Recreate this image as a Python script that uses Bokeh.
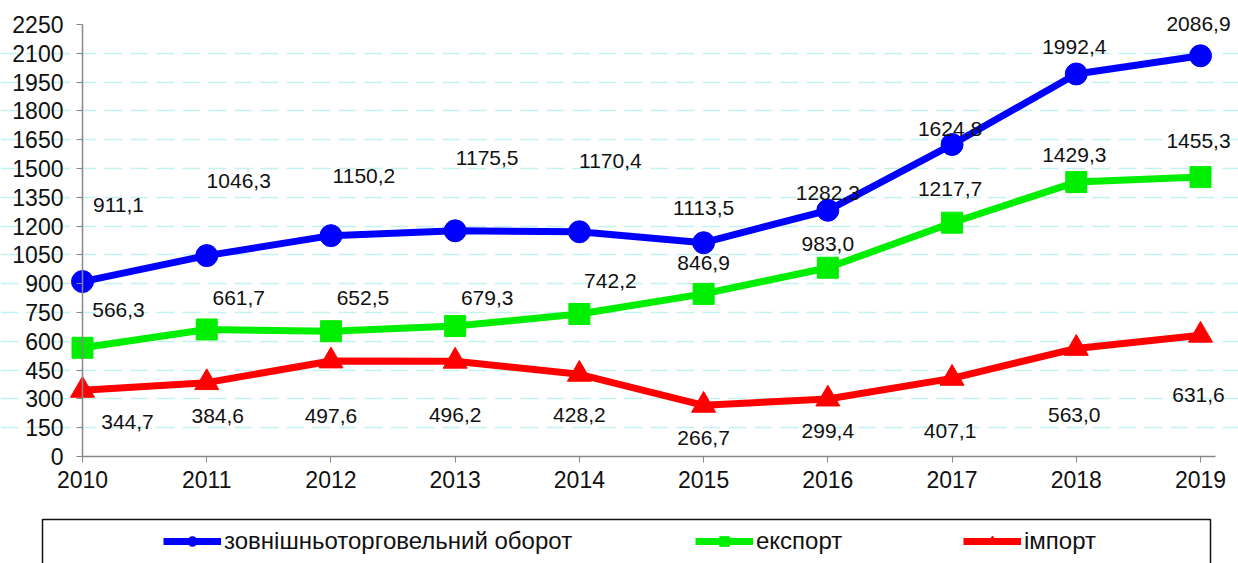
from bokeh.plotting import figure
from bokeh.models import (ColumnDataSource, FixedTicker, Legend, LegendItem,
                          BoxAnnotation, Range1d, LinearAxis, Grid)
from bokeh.embed import file_html
from bokeh.resources import INLINE
from bokeh.core.properties import value

years = [2010, 2011, 2012, 2013, 2014, 2015, 2016, 2017, 2018, 2019]
turnover = [911.1, 1046.3, 1150.2, 1175.5, 1170.4, 1113.5, 1282.3, 1624.8, 1992.4, 2086.9]
export = [566.3, 661.7, 652.5, 679.3, 742.2, 846.9, 983.0, 1217.7, 1429.3, 1455.3]
imports = [344.7, 384.6, 497.6, 496.2, 428.2, 266.7, 299.4, 407.1, 563.0, 631.6]
y_ticks = list(range(0, 2251, 150))
series_names = ["зовнішньоторговельний оборот", "експорт", "імпорт"]

# label offsets (pixels) for readability
dx_t = [36, 32, 33, 32, 31, 0, 0, -2, -2, -2]
dy_t = [-77, -75, -60, -73, -71, -35, -17, -16, -27, -32]
dx_e = [36, 32, 32, 32, 31, 0, 0, -2, -2, -2]
dy_e = [-38, -31, -33, -28, -33, -31, -24, -34, -27, -36]
dx_i = [45, 11, 0, 0, 0, 0, 0, -2, -2, -2]
dy_i = [32, 33, 55, 54, 41, 33, 32, 53, 67, 60]

FONT = "Liberation Sans"
BLUE = "#0000ff"
GREEN = "#00ee00"
RED = "#ff0000"

W, H = 1238, 563
# pixel geometry of the plotting area
X0_PX, X9_PX = 82, 1200          # pixel x of first / last year
Y0_PX, YTOP_PX = 456, 24         # pixel y of 0 / 2250
PX_PER_YEAR = (X9_PX - X0_PX) / (years[-1] - years[0])
PX_PER_UNIT = (Y0_PX - YTOP_PX) / y_ticks[-1]


def xd(px):
    return years[0] + (px - X0_PX) / PX_PER_YEAR


def yd(px):
    return (Y0_PX - px) / PX_PER_UNIT


def fmt(v):
    return f"{v:.1f}".replace(".", ",")


p = figure(width=W, height=H, output_backend="svg", toolbar_location=None,
           x_range=Range1d(xd(0), xd(W)), y_range=Range1d(yd(H), yd(0)),
           x_axis_location=None, y_axis_location=None,
           min_border=0, min_border_left=0, min_border_right=0,
           min_border_top=0, min_border_bottom=0)
p.outline_line_color = None
p.background_fill_color = "white"
p.grid.visible = False

x_end = xd(1215)

grid = Grid(dimension=1, ticker=FixedTicker(ticks=y_ticks[1:-1]),
            bounds=(years[0], x_end), grid_line_color="#c4f2f0",
            grid_line_dash="18 8", grid_line_width=1.5)
p.add_layout(grid)

yaxis = LinearAxis(fixed_location=years[0], bounds=(0, y_ticks[-1]),
                   ticker=FixedTicker(ticks=y_ticks))
xaxis = LinearAxis(fixed_location=0, bounds=(years[0], x_end),
                   ticker=FixedTicker(ticks=years))
for ax in (xaxis, yaxis):
    ax.axis_line_color = "#888888"
    ax.axis_line_width = 1.5
    ax.major_tick_line_color = "#888888"
    ax.minor_tick_line_color = None
    ax.major_tick_in = 0
    ax.major_tick_out = 6
    ax.major_label_text_font = FONT
    ax.major_label_text_font_size = "23px"
    ax.major_label_text_color = "#111111"
yaxis.major_label_standoff = 13
xaxis.major_label_standoff = 8
p.add_layout(yaxis, "left")
p.add_layout(xaxis, "below")

series = [
    (turnover, BLUE, "circle", 22, dx_t, dy_t),
    (export, GREEN, "square", 21, dx_e, dy_e),
    (imports, RED, "triangle", 24, dx_i, dy_i),
]

renderers = []
for vals, col, marker, size, dxs, dys in series:
    src = ColumnDataSource(dict(x=years, y=vals, lab=[fmt(v) for v in vals],
                                dx=dxs, dy=dys))
    lr = p.line("x", "y", source=src, line_color=col, line_width=7)
    sr = p.scatter("x", "y", source=src, marker=marker, size=size,
                   fill_color=col, line_color=col)
    p.text("x", "y", text="lab", source=src, x_offset="dx", y_offset="dy",
           text_align="center", text_baseline="middle",
           text_font=value(FONT), text_font_size="21px", text_color="#111111")
    renderers.append((lr, sr))

# legend box
p.add_layout(BoxAnnotation(left=xd(42), right=xd(1210), bottom=yd(H + 20),
                           top=yd(519), fill_alpha=0, line_color="#111111",
                           line_alpha=1.0, line_width=1.5))

legend_x = [163, 695, 963]
for (lr, sr), name, lx in zip(renderers, series_names, legend_x):
    leg = Legend(items=[LegendItem(label=name, renderers=[lr, sr])],
                 location=(lx, H - 543 - 12), orientation="horizontal",
                 border_line_color=None, background_fill_alpha=0,
                 padding=0, margin=0, glyph_width=58, glyph_height=24,
                 label_standoff=3, label_text_font=FONT,
                 label_text_font_size="24px", label_text_color="#111111")
    p.add_layout(leg, "center")

open("out.html", "w").write(file_html(p, INLINE))
